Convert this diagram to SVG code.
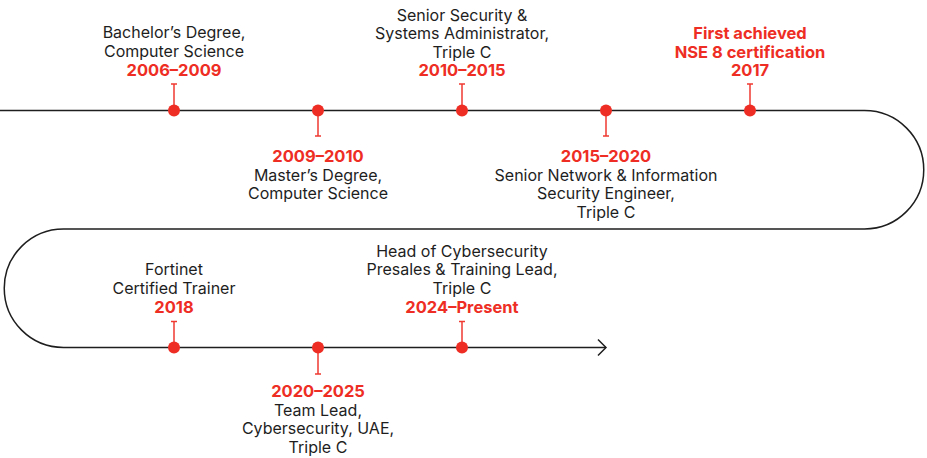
<svg xmlns="http://www.w3.org/2000/svg" width="927" height="458" viewBox="0 0 927 458">
<style>
.path{fill:none;stroke:#1e1e1e;stroke-width:1.5}
.tick{stroke:#ee3a30;stroke-width:1.5;fill:none}
.dot{fill:#ee2e24}
text{font-family:Inter,"Liberation Sans",sans-serif;font-size:16px;text-anchor:middle}
.t{fill:#1e1e1e}
.y{fill:#ee2e24;font-weight:700;font-size:16.5px}
</style>
<rect width="927" height="458" fill="#ffffff"/>
<g id="connectors">
<path class="path" d="M0 110.5 H864.5 A59.25 59.25 0 0 1 864.5 229 H63.5 A59.25 59.25 0 0 0 63.5 347.5 H606"/>
<path class="path" d="M598 339.5 L606 347.5 L598 355.5"/>
</g>
<g id="n1">
<path class="tick" d="M174 110 V84 M171 84 H177"/>
<circle class="dot" cx="174" cy="110.5" r="6"/>
<text class="t" x="174" y="38">Bachelor’s Degree,</text>
<text class="t" x="174" y="56.5">Computer Science</text>
<text class="y" x="174" y="76">2006–2009</text>
</g>
<g id="n2">
<path class="tick" d="M318 110 V136 M315 136 H321"/>
<circle class="dot" cx="318" cy="110.5" r="6"/>
<text class="y" x="318" y="162">2009–2010</text>
<text class="t" x="318" y="180.5">Master’s Degree,</text>
<text class="t" x="318" y="199">Computer Science</text>
</g>
<g id="n3">
<path class="tick" d="M462 110 V84 M459 84 H465"/>
<circle class="dot" cx="462" cy="110.5" r="6"/>
<text class="t" x="462" y="20.5">Senior Security &amp;</text>
<text class="t" x="462" y="39">Systems Administrator,</text>
<text class="t" x="462" y="57.5">Triple C</text>
<text class="y" x="462" y="76">2010–2015</text>
</g>
<g id="n4">
<path class="tick" d="M606 110 V136 M603 136 H609"/>
<circle class="dot" cx="606" cy="110.5" r="6"/>
<text class="y" x="606" y="162">2015–2020</text>
<text class="t" x="606" y="180.5">Senior Network &amp; Information</text>
<text class="t" x="606" y="199">Security Engineer,</text>
<text class="t" x="606" y="217.5">Triple C</text>
</g>
<g id="n5">
<path class="tick" d="M750 110 V84 M747 84 H753"/>
<circle class="dot" cx="750" cy="110.5" r="6"/>
<text class="y" x="750" y="39">First achieved</text>
<text class="y" x="750" y="57.5">NSE 8 certification</text>
<text class="y" x="750" y="76">2017</text>
</g>
<g id="n6">
<path class="tick" d="M174 347 V321.5 M171 321.5 H177"/>
<circle class="dot" cx="174" cy="347.5" r="6"/>
<text class="t" x="174" y="275">Fortinet</text>
<text class="t" x="174" y="293.5">Certified Trainer</text>
<text class="y" x="174" y="312.5">2018</text>
</g>
<g id="n7">
<path class="tick" d="M318 347 V374 M315 374 H321"/>
<circle class="dot" cx="318" cy="347.5" r="6"/>
<text class="y" x="318" y="397">2020–2025</text>
<text class="t" x="318" y="415.5">Team Lead,</text>
<text class="t" x="318" y="434">Cybersecurity, UAE,</text>
<text class="t" x="318" y="452.5">Triple C</text>
</g>
<g id="n8">
<path class="tick" d="M462 347 V321.5 M459 321.5 H465"/>
<circle class="dot" cx="462" cy="347.5" r="6"/>
<text class="t" x="462" y="256.5">Head of Cybersecurity</text>
<text class="t" x="462" y="275">Presales &amp; Training Lead,</text>
<text class="t" x="462" y="293.5">Triple C</text>
<text class="y" x="462" y="312.5">2024–Present</text>
</g>
</svg>
